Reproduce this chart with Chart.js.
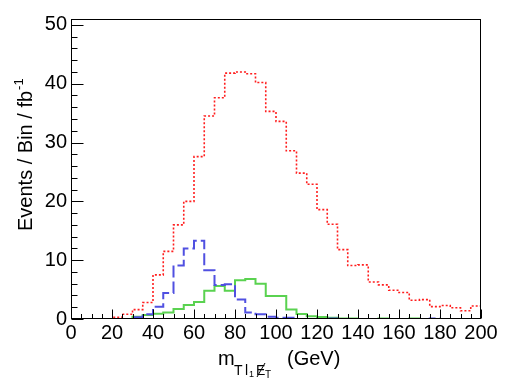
<!DOCTYPE html>
<html>
<head>
<meta charset="utf-8">
<script src="https://cdn.jsdelivr.net/npm/chart.js@4/dist/chart.umd.min.js"></script>
<style>
  html, body { margin: 0; padding: 0; background: #fff; }
  canvas { display: block; }
</style>
</head>
<body>
<canvas id="chart" width="512" height="389"></canvas>
<script>
// histogram bins, 5 GeV wide
const binEdges = [0,5,10,15,20,25,30,35,40,45,50,55,60,65,70,75,80,85,90,95,100,
  105,110,115,120,125,130,135,140,145,150,155,160,165,170,175,180,185,190,195,200];

// red dotted
const redVals = [0,0,0,0,0.3,0.8,1.6,2.8,7.5,11.5,16.0,20.0,27.6,34.5,37.6,41.8,42.0,41.7,40.2,35.3,
  33.6,28.6,24.8,22.9,18.6,16.1,11.8,9.1,9.2,6.3,5.8,4.9,4.5,3.2,3.3,2.1,2.3,1.9,1.4,2.2];
// blue dashed
const blueVals = [0,0,0,0,0,0,0.3,0.8,2.1,4.4,9.1,12.0,13.3,8.3,5.8,5.9,3.3,1.1,0.8,0.4,
  0.2,0.2,0,0,0,0.1,0,0,0,0,0,0,0,0,0,0.1,0,0,0,0];
// green solid
const greenVals = [0,0,0,0,0,0,0.4,0.7,0.9,1.1,1.7,2.4,2.9,4.8,5.6,4.8,6.6,6.8,6.0,3.9,
  3.9,1.6,0.85,0.45,0.35,0.2,0.1,0.1,0,0,0.1,0,0,0.1,0,0,0,0,0,0];

const xTickLabels = [0,20,40,60,80,100,120,140,160,180,200];
const yTickLabels = [0,10,20,30,40,50];

const FONT = '"Liberation Sans", Arial, Helvetica, sans-serif';

// one point per low edge + the last high edge
function steps(vals) {
  const pts = vals.map((v, i) => ({ x: binEdges[i], y: v }));
  pts.push({ x: binEdges[vals.length], y: vals[vals.length - 1] });
  return pts;
}

// frame, inward ticks and axis titles like ROOT draws them
const rootFrame = {
  id: 'rootFrame',
  afterDatasetsDraw(chart) {
    const { ctx, chartArea: a, scales: { x, y } } = chart;
    ctx.save();
    ctx.strokeStyle = '#000';
    ctx.lineWidth = 1;
    const L = Math.round(a.left) + 0.5, R = Math.round(a.right) - 0.5;
    const T = Math.round(a.top) + 0.5, B = Math.round(a.bottom) - 0.5;
    ctx.strokeRect(L, T, R - L, B - T);

    ctx.beginPath();
    for (let v = 0; v <= 50; v += 2) {
      const py = Math.round(y.getPixelForValue(v)) + 0.5;
      const len = v % 10 === 0 ? 12 : 6;
      ctx.moveTo(L, py); ctx.lineTo(L + len, py);
    }
    for (let v = 0; v <= 200; v += 5) {
      const px = Math.round(x.getPixelForValue(v)) + 0.5;
      const len = v % 20 === 0 ? 9 : 4.5;
      ctx.moveTo(px, B); ctx.lineTo(px, B - len);
    }
    ctx.stroke();

    // y title
    ctx.fillStyle = '#000';
    ctx.textBaseline = 'alphabetic';
    ctx.textAlign = 'left';
    ctx.save();
    ctx.translate(32, 231);
    ctx.rotate(-Math.PI / 2);
    ctx.font = '20px ' + FONT;
    const main = 'Events / Bin / fb';
    ctx.fillText(main, 0, 0);
    const w = ctx.measureText(main).width;
    ctx.font = '13px ' + FONT;
    ctx.fillText('-1', w + 1, -9);
    ctx.restore();

    // x title: m_{T l_1 Eslash_T} (GeV)
    ctx.font = '20px ' + FONT;
    ctx.fillText('m', 218, 365);
    ctx.font = '14px ' + FONT;
    ctx.fillText('T', 234, 375);
    ctx.fillText('l', 245, 375);
    ctx.font = '9px ' + FONT;
    ctx.fillText('1', 249, 377);
    ctx.font = '14px ' + FONT;
    ctx.fillText('E', 256, 375);
    ctx.beginPath();
    ctx.moveTo(257, 377); ctx.lineTo(265, 363);
    ctx.stroke();
    ctx.font = '10px ' + FONT;
    ctx.fillText('T', 265, 378);
    ctx.font = '20px ' + FONT;
    ctx.fillText('(GeV)', 287, 365);
    ctx.restore();
  }
};

const ds = (label, vals, color, dash, width, order) => ({
  label, data: steps(vals), borderColor: color, borderWidth: width, borderDash: dash,
  stepped: 'before', pointRadius: 0, fill: false, tension: 0, order
});

new Chart(document.getElementById('chart'), {
  type: 'line',
  data: {
    datasets: [
      ds('red', redVals, 'rgb(255,30,30)', [2, 2], 1.6, 3),
      ds('green', greenVals, 'rgb(90,210,80)', [], 2, 2),
      ds('blue', blueVals, 'rgb(80,80,225)', [12, 4], 2, 1)
    ]
  },
  options: {
    responsive: false,
    devicePixelRatio: 1,
    animation: false,
    layout: { padding: { left: 0, top: 19, right: 31, bottom: 0 } },
    plugins: { legend: { display: false }, tooltip: { enabled: false } },
    scales: {
      x: {
        type: 'linear', min: 0, max: 200,
        grid: { display: false, drawTicks: false },
        border: { display: false },
        afterFit: s => { s.height = 70; },
        afterBuildTicks: s => { s.ticks = xTickLabels.map(v => ({ value: v })); },
        ticks: { color: '#000', font: { family: FONT, size: 20 }, padding: 2, maxRotation: 0, autoSkip: false }
      },
      y: {
        min: 0, max: 51,
        grid: { display: false, drawTicks: false },
        border: { display: false },
        afterFit: s => { s.width = 71; },
        afterBuildTicks: s => { s.ticks = yTickLabels.map(v => ({ value: v })); },
        ticks: { color: '#000', font: { family: FONT, size: 20 }, padding: 4 }
      }
    }
  },
  plugins: [rootFrame]
});
</script>
</body>
</html>
